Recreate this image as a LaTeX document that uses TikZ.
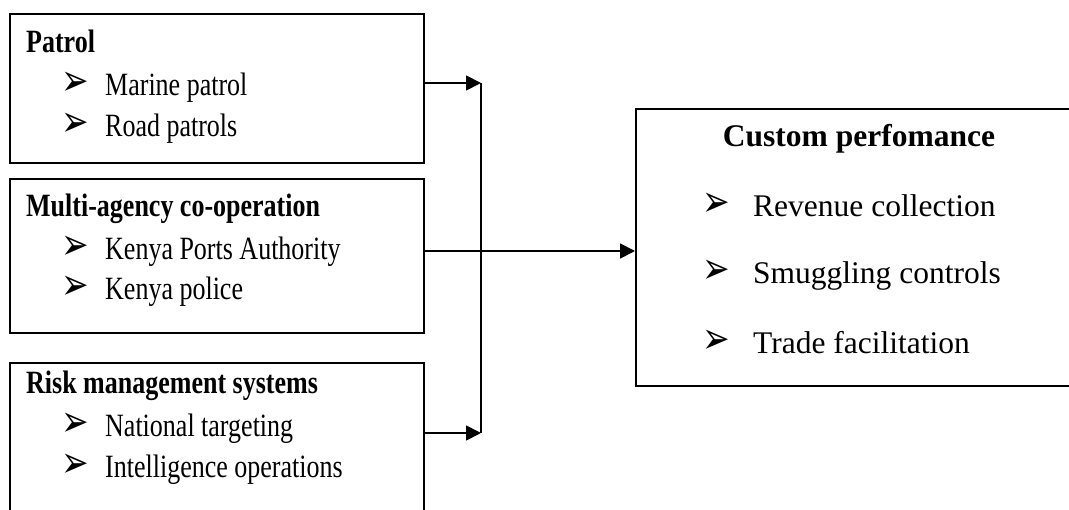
\documentclass[tikz,border=0pt]{standalone}
\usepackage{fontspec}
\setmainfont{Liberation Serif}[FakeStretch=0.8]
\newfontfamily\widefont{Liberation Serif}
\newfontfamily\bulfont{DejaVu Sans}[FakeStretch=0.75]
\usetikzlibrary{arrows.meta}
\tikzset{
  box/.style={draw, line width=1.6pt, rectangle, anchor=north west, inner sep=0pt},
  txt/.style={anchor=base west, inner sep=0pt, font=\fontsize{32.5}{38}\selectfont},
  txtr/.style={anchor=base west, inner sep=0pt, font=\widefont\fontsize{31.5}{38}\selectfont},
  bul/.style={anchor=base west, inner sep=0pt, font=\bulfont\fontsize{44}{48}\selectfont},
  arr/.style={line width=1.8pt, -{Triangle[length=15pt,width=15pt]}},
  vline/.style={line width=1.1pt}
}
\begin{document}
\begin{tikzpicture}[x=1pt,y=-1pt]
\useasboundingbox (0,0) rectangle (1069,510);
\clip (0,0) rectangle (1069,510);
% boxes
\node[box, minimum width=414pt, minimum height=149pt] (b1) at (9,13) {};
\node[box, minimum width=414pt, minimum height=154pt] (b2) at (9,178) {};
\node[box, minimum width=414pt, minimum height=170pt] (b3) at (9,362) {};
\node[box, minimum width=448pt, minimum height=277pt] (b4) at (635,108) {};
% box 1 text
\node[txt] (h1) at (26,53) {\bfseries Patrol};
\node[bul] (p1) at (61,96) {➢};
\node[txt] (t11) at (105,96) {Marine patrol};
\node[bul] (p2) at (61,137) {➢};
\node[txt] (t12) at (105,137) {Road patrols};
% box 2 text
\node[txt] (h2) at (26,217) {\bfseries Multi-agency co-operation};
\node[bul] (p3) at (61,260) {➢};
\node[txt] (t21) at (105,260) {Kenya Ports Authority};
\node[bul] (p4) at (61,300) {➢};
\node[txt] (t22) at (105,300) {Kenya police};
% box 3 text
\node[txt] (h3) at (26,394) {\bfseries Risk management systems};
\node[bul] (p5) at (61,437) {➢};
\node[txt] (t31) at (105,437) {National targeting};
\node[bul] (p6) at (61,478) {➢};
\node[txt] (t32) at (105,478) {Intelligence operations};
% box 4 text
\node[txtr, anchor=base] (h4) at (859,147) {\bfseries Custom perfomance};
\node[bul] (p7) at (702,217) {➢};
\node[txtr] (t41) at (753,217) {Revenue collection};
\node[bul] (p8) at (702,284) {➢};
\node[txtr] (t42) at (753,284) {Smuggling controls};
\node[bul] (p9) at (702,354) {➢};
\node[txtr] (t43) at (753,354) {Trade facilitation};
% connectors
\coordinate (j1) at (481,83);
\coordinate (j2) at (481,251);
\coordinate (j3) at (481,433);
\draw[vline] (j1) -- (j3);
\draw[arr] (b1.east |- j1) -- (j1);
\draw[arr] (b2.east |- j2) -- (b4.west |- j2);
\draw[arr] (b3.east |- j3) -- (j3);
\end{tikzpicture}
\end{document}
